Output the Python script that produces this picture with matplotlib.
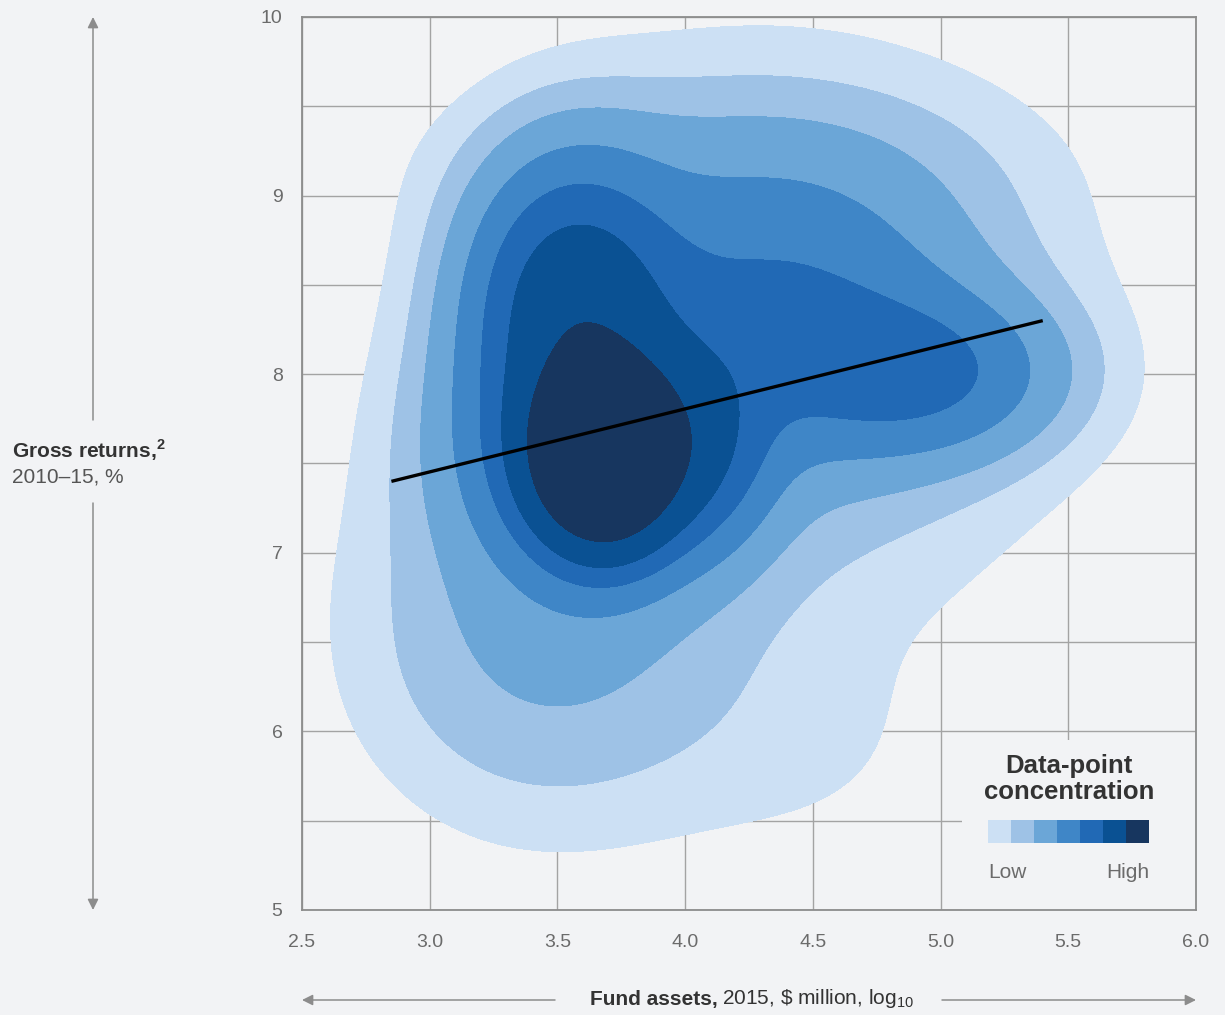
import numpy as np
import matplotlib.pyplot as plt
from matplotlib.patches import Rectangle

plt.rcParams['font.family'] = ['Liberation Sans', 'DejaVu Sans']
plt.rcParams['mathtext.fontset'] = 'custom'
plt.rcParams['mathtext.rm'] = 'Liberation Sans'
plt.rcParams['mathtext.bf'] = 'Liberation Sans:bold'

# axis ticks
x_ticks = [2.5, 3.0, 3.5, 4.0, 4.5, 5.0, 5.5, 6.0]
x_labels = ['2.5', '3.0', '3.5', '4.0', '4.5', '5.0', '5.5', '6.0']
y_ticks = [5, 6, 7, 8, 9, 10]
y_grid = [5.5, 6.5, 7.5, 8.5, 9.5]

# data-point density read off the picture as gaussian bumps
# core, left shoulder, upper core, right shoulder, upper middle, bridge, right lobe, body, top, lower left, lower right
bump_x = [3.68, 3.62, 3.56, 4.05, 4.35, 4.55, 4.95, 4.30, 4.20, 3.45, 4.45]
bump_y = [7.55, 7.60, 8.40, 7.60, 8.45, 8.00, 8.00, 8.20, 9.20, 6.52, 5.90]
bump_sx = [0.17, 0.32, 0.24, 0.18, 0.45, 0.35, 0.32, 0.70, 0.70, 0.47, 0.45]
bump_sy = [0.31, 0.45, 0.47, 0.35, 0.45, 0.35, 0.28, 0.90, 0.32, 0.67, 0.50]
bump_w = [0.80, 0.14, 0.22, 0.12, 0.07, 0.03, 0.09, 0.04, 0.011, 0.032, 0.0065]

# concentration bands, low -> high
band_levels = [0.007, 0.016, 0.03, 0.06, 0.11, 0.18, 0.34]
colors = ['#cce0f4', '#9ec2e6', '#6ba6d7', '#3f86c7', '#2169b5', '#0a5193', '#17365f']

# regression line
fit_x = [2.85, 5.40]
fit_y = [7.40, 8.30]


def density(x, y):
    z = np.zeros_like(x)
    for mx, my, sx, sy, w in zip(bump_x, bump_y, bump_sx, bump_sy, bump_w):
        z = z + w * np.exp(-0.5 * (((x - mx) / sx) ** 2 + ((y - my) / sy) ** 2))
    return z


bg = '#f2f3f5'
grid_c = '#a3a3a3'
tick_c = '#6b6b6b'

fig = plt.figure(figsize=(12.25, 10.15), dpi=100, facecolor=bg)
ax = fig.add_axes([302 / 1225, 1 - 910 / 1015, 894 / 1225, 893 / 1015])
ax.set_facecolor(bg)

gx, gy = np.meshgrid(np.linspace(2.5, 6.0, 600), np.linspace(5, 10, 600))
gz = density(gx, gy)
ax.contourf(gx, gy, gz, levels=band_levels + [gz.max() + 1], colors=colors, zorder=2)

ax.plot(fit_x, fit_y, color='black', lw=2.4, zorder=3, solid_capstyle='butt')

ax.set_xlim(2.5, 6.0)
ax.set_ylim(5, 10)
ax.set_xticks(x_ticks)
ax.set_xticklabels(x_labels)
ax.set_yticks(y_ticks)
ax.set_yticks(y_grid, minor=True)
ax.tick_params(axis='both', which='both', length=0, labelsize=14, labelcolor=tick_c)
ax.tick_params(axis='x', pad=17)
ax.tick_params(axis='y', pad=14)
ax.grid(True, which='both', color=grid_c, lw=1)
ax.set_axisbelow(True)
for s in ax.spines.values():
    s.set_color('#8c8c8c')
    s.set_linewidth(1.3)

# legend box
ax.add_patch(Rectangle((5.084, 5.0), 0.92, 0.952, facecolor=bg, edgecolor='none', zorder=1))
fig.text(1069 / 1225, 1 - 779 / 1015, 'Data-point\nconcentration', ha='center', va='center',
         fontsize=18.5, fontweight='bold', color='#333333', linespacing=1.1)
lax = fig.add_axes([988 / 1225, 1 - 843 / 1015, 161 / 1225, 23 / 1015])
lax.bar(range(len(colors)), [1] * len(colors), width=1.0, color=colors)
lax.set_xlim(-0.5, len(colors) - 0.5)
lax.set_ylim(0, 1)
lax.axis('off')
fig.text(988 / 1225, 1 - 872 / 1015, 'Low', ha='left', va='center', fontsize=15, color=tick_c)
fig.text(1149 / 1225, 1 - 872 / 1015, 'High', ha='right', va='center', fontsize=15, color=tick_c)

# y label with arrows
fig.text(12 / 1225, 1 - 450 / 1015, r'Gross returns,$^{\mathbf{2}}$', ha='left', va='center',
         fontsize=15, fontweight='bold', color='#333333')
fig.text(12 / 1225, 1 - 477 / 1015, '2010–15, %', ha='left', va='center', fontsize=15, color='#555555')
arr = dict(arrowstyle='-|>', color='#8c8c8c', lw=1.1, mutation_scale=16, shrinkA=0, shrinkB=0)
fig.add_artist(plt.Annotation('', xy=(93 / 1225, 1 - 17 / 1015), xytext=(93 / 1225, 1 - 420 / 1015),
                              xycoords='figure fraction', arrowprops=arr))
fig.add_artist(plt.Annotation('', xy=(93 / 1225, 1 - 910 / 1015), xytext=(93 / 1225, 1 - 503 / 1015),
                              xycoords='figure fraction', arrowprops=arr))

# x label with arrows
fig.text(718 / 1225, 1 - 999 / 1015, 'Fund assets,', ha='right', va='center', fontsize=15,
         fontweight='bold', color='#333333')
fig.text(722 / 1225, 1 - 999 / 1015, r'2015, \$ million, log$_{10}$', ha='left', va='center',
         fontsize=15, color='#333333')
fig.add_artist(plt.Annotation('', xy=(302 / 1225, 1 - 1000 / 1015), xytext=(555 / 1225, 1 - 1000 / 1015),
                              xycoords='figure fraction', arrowprops=arr))
fig.add_artist(plt.Annotation('', xy=(1196 / 1225, 1 - 1000 / 1015), xytext=(942 / 1225, 1 - 1000 / 1015),
                              xycoords='figure fraction', arrowprops=arr))

fig.savefig('out.png', dpi=100, facecolor=bg)
